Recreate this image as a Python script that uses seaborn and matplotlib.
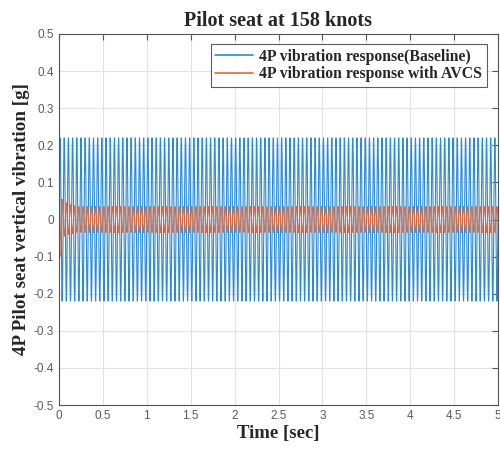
import numpy as np
import pandas as pd
import matplotlib
matplotlib.use("Agg")
import matplotlib.pyplot as plt
import seaborn as sns

# values
t_end = 5.0                 # sec
freq_4p = 21.0              # Hz, 4P frequency (~105 cycles over 5 s)
amp_baseline = 0.22         # g
amp_avcs = 0.035            # g, steady state with AVCS
avcs_first_peaks = [-0.09, 0.055, -0.045, 0.045, -0.04, 0.04, -0.038, 0.037]  # transient half-cycle extremes

x_ticks = [0, 0.5, 1, 1.5, 2, 2.5, 3, 3.5, 4, 4.5, 5]
y_ticks = [-0.5, -0.4, -0.3, -0.2, -0.1, 0, 0.1, 0.2, 0.3, 0.4, 0.5]
x_tick_labels = ["0", "0.5", "1", "1.5", "2", "2.5", "3", "3.5", "4", "4.5", "5"]
y_tick_labels = ["-0.5", "-0.4", "-0.3", "-0.2", "-0.1", "0", "0.1", "0.2", "0.3", "0.4", "0.5"]

t = np.linspace(0, t_end, 12001)
phase = 2 * np.pi * freq_4p * t
baseline = amp_baseline * np.sin(phase)

# half-cycle amplitudes for the AVCS response
half_idx = np.floor((phase + np.pi / 2) / np.pi).astype(int)
half_amp = np.full(half_idx.max() + 1, amp_avcs)
for k, p in enumerate(avcs_first_peaks):
    half_amp[k] = abs(p)
avcs = -half_amp[half_idx] * np.sin(phase)
avcs[:40] = avcs[:40] - 0.03 * (1 - np.arange(40) / 40)

df = pd.DataFrame({"t": np.concatenate([t, t]),
                   "g": np.concatenate([baseline, avcs]),
                   "series": ["4P vibration response(Baseline)"] * len(t) +
                             ["4P vibration response with AVCS"] * len(t)})

sns.set_style("white")
plt.rcParams["font.family"] = ["Liberation Sans", "DejaVu Sans"]

fig = plt.figure(figsize=(5.0, 4.49), dpi=100)
ax = fig.add_axes([59 / 500, 1 - 405 / 449, (498 - 59) / 500, (405 - 34) / 449])

sns.lineplot(data=df, x="t", y="g", hue="series", estimator=None, sort=False,
             palette=["#2B8AD0", "#E0683A"], linewidth=0.8, ax=ax)

ax.set_xlim(0, 5)
ax.set_ylim(-0.5, 0.5)
ax.set_xticks(x_ticks)
ax.set_xticklabels(x_tick_labels)
ax.set_yticks(y_ticks)
ax.set_yticklabels(y_tick_labels)
ax.grid(True, color="#e3e3e3", linewidth=0.8)
ax.set_axisbelow(True)
ax.tick_params(direction="in", length=4, width=0.8, colors="#555555",
               labelsize=8.5, top=True, right=True, labelcolor="#5a5a5a")
for s in ax.spines.values():
    s.set_color("#555555")
    s.set_linewidth(0.8)

serif = {"family": ["Liberation Serif", "DejaVu Serif"], "weight": "bold"}
ax.set_title("Pilot seat at 158 knots", fontdict=dict(serif, size=14.5), pad=6)
ax.set_xlabel("Time [sec]", fontdict=dict(serif, size=13.5), labelpad=2)
ax.set_ylabel("4P Pilot seat vertical vibration [g]", fontdict=dict(serif, size=13.7), labelpad=3)

leg = ax.legend(loc="upper right", bbox_to_anchor=(0.975, 0.973), borderaxespad=0,
                frameon=True, fancybox=False, edgecolor="#333333", handlelength=2.4,
                borderpad=0.3, labelspacing=0.1, handletextpad=0.4,
                prop={"family": ["Liberation Serif", "DejaVu Serif"], "weight": "bold", "size": 11.3})
leg.get_frame().set_linewidth(0.8)
for line in leg.get_lines():
    line.set_linewidth(1.2)

fig.savefig("out.png", dpi=100)
